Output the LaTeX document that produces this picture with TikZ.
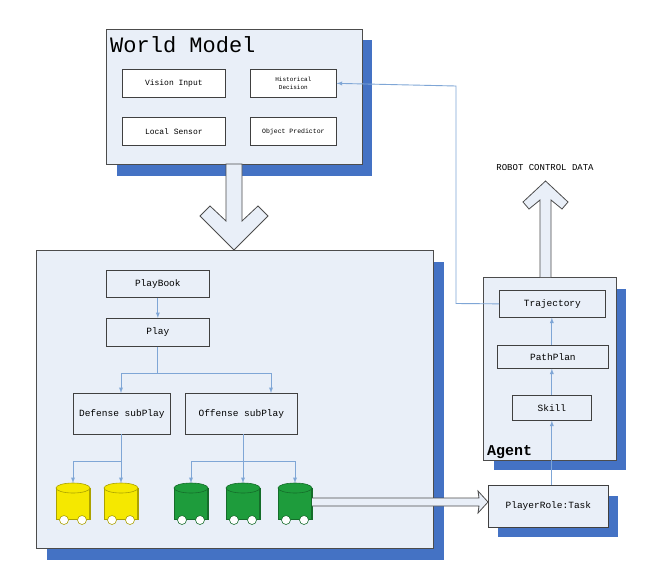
\documentclass[tikz,border=0pt]{standalone}
\usepackage{fontspec}
\setmonofont{Liberation Mono}
\usetikzlibrary{calc}
\definecolor{fillb}{HTML}{E9EFF8}
\definecolor{shad}{HTML}{4472C4}
\definecolor{arr}{HTML}{7FA6D6}
\definecolor{ylw}{HTML}{F5E800}
\definecolor{grn}{HTML}{1E9C3C}
\tikzset{
 panel/.style={draw=black!70,fill=fillb,line width=0.8pt},
 shadowbox/.style={fill=shad},
 box/.style={draw=black!75,fill=white,line width=0.7pt,font=\ttfamily\fontsize{8}{9}\selectfont,align=center},
 lbox/.style={draw=black!75,fill=fillb,line width=0.7pt,font=\ttfamily\fontsize{9.5}{11}\selectfont},
 blarr/.style={draw=arr,line width=0.9pt,-latex},
 blline/.style={draw=arr,line width=0.9pt},
 hollow/.style={draw=black!70,fill=fillb,line width=0.8pt}
}
\newcommand{\robo}[3]{% x, color, name
 \coordinate (#3) at (#1,483);
 \fill[#2!70!black] (#1-17,488) rectangle (#1+17,520);
 \fill[#2] (#1-16,488) rectangle (#1+16,519);
 \fill[#2,draw=#2!70!black,line width=0.6pt] (#1,488) ellipse (17 and 5);
 \draw[#2!70!black,line width=0.6pt] (#1-17,488) -- (#1-17,520) (#1+17,488)--(#1+17,520);
 \draw[#2!70!black,fill=white,line width=0.6pt] (#1-9,520) circle (4.5) (#1+9,520) circle (4.5);
}
\begin{document}
\begin{tikzpicture}[x=1pt,y=-1pt]
\useasboundingbox[fill=white] (0,0) rectangle (652,581);
% World model
\fill[shadowbox] (117,40) rectangle (372,176);
\node[panel,minimum width=256,minimum height=135,anchor=north west] (wm) at (106,29) {};
\node[anchor=west,font=\ttfamily\fontsize{22}{24}\selectfont,inner sep=0] (wmt) at (110,45) {World Model};
\node[box,minimum width=103,minimum height=28,anchor=north west] (vi) at (122,69) {Vision Input};
\node[box,minimum width=86,minimum height=28,anchor=north west,font=\ttfamily\fontsize{6}{8}\selectfont] (hd) at (250,69) {Historical\\Decision};
\node[box,minimum width=103,minimum height=28,anchor=north west] (ls) at (122,117) {Local Sensor};
\node[box,minimum width=86,minimum height=28,anchor=north west,font=\ttfamily\fontsize{6.5}{8}\selectfont] (op) at (250,117) {Object Predictor};
% main box
\fill[shadowbox] (47,262) rectangle (444,560);
\node[panel,minimum width=397,minimum height=298,anchor=north west] (mb) at (36,250) {};
% big down arrow
\draw[hollow] (226,164) -- (242,164) -- (242,221) -- (258,206) -- (268,216) -- (234,250) -- (200,216) -- (210,206) -- (226,221) -- cycle;
\node[lbox,minimum width=103,minimum height=27,anchor=north west] (pb) at (106,270) {PlayBook};
\node[lbox,minimum width=103,minimum height=28,anchor=north west] (pl) at (106,318) {Play};
\node[lbox,minimum width=97,minimum height=41,anchor=north west] (ds) at (73,393) {Defense subPlay};
\node[lbox,minimum width=112,minimum height=41,anchor=north west] (os) at (185,393) {Offense subPlay};
\draw[blarr] (pb.south) -- (pl.south |- pb.south) -- (pl.north);
\draw[blline] (pl.south) -- ++(0,27) coordinate (j1);
\draw[blarr] (j1) -| (121,393);
\draw[blarr] (j1) -| (271,393);
\robo{73}{ylw}{r1}\robo{121}{ylw}{r2}
\robo{191}{grn}{r3}\robo{243}{grn}{r4}\robo{295}{grn}{r5}
\draw[blline] (121,434) -- (121,461) coordinate (j2);
\draw[blarr] (j2) -| (r1);
\draw[blarr] (j2) -- (r2);
\draw[blline] (243,434) -- (243,461) coordinate (j3);
\draw[blarr] (j3) -| (r3);
\draw[blarr] (j3) -- (r4);
\draw[blarr] (j3) -| (r5);
% agent
\fill[shadowbox] (494,289) rectangle (626,470);
\node[panel,minimum width=133,minimum height=183,anchor=north west] (ag) at (483,277) {};
\node[anchor=south west,font=\ttfamily\bfseries\fontsize{15}{16}\selectfont,inner sep=1] (agt) at (486,460) {Agent};
\node[lbox,minimum width=106,minimum height=27,anchor=north west] (tr) at (499,290) {Trajectory};
\node[lbox,minimum width=111,minimum height=23,anchor=north west] (pp) at (497,345) {PathPlan};
\node[lbox,minimum width=79,minimum height=25,anchor=north west] (sk) at (512,395) {Skill};
\fill[shadowbox] (498,496) rectangle (618,537);
\node[lbox,minimum width=120,minimum height=42,anchor=north west] (pr) at (488,485) {PlayerRole:Task};
\draw[blarr] (pr.north -| sk.south) -- (sk.south);
\draw[blarr] (sk.north) -- (sk.north |- pp.south);
\draw[blarr] (sk.north |- pp.north) -- (sk.north |- tr.south);
\draw[blarr] (tr.west) -- (456,303.5) -- (456,86) -- (hd.east);
% hollow right arrow
\draw[hollow] (312,498) -- (479,498) -- (478,491) -- (488,502) -- (478,513) -- (479,506) -- (312,506);
% up arrow
\draw[hollow] (540,277) -- (540,200) -- (529,209) -- (523,202) -- (545.5,181) -- (568,202) -- (562,209) -- (551,200) -- (551,277);
\node[font=\ttfamily\fontsize{9}{10}\selectfont] (rcd) at (545,168) {ROBOT CONTROL DATA};
\end{tikzpicture}
\end{document}
